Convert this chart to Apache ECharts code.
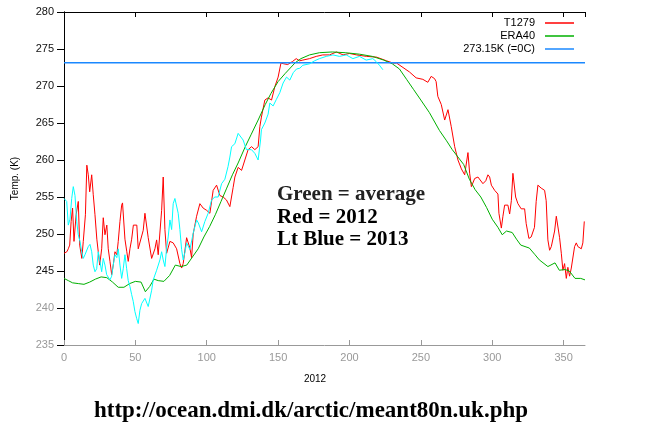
<!DOCTYPE html>
<html>
<head>
<meta charset="utf-8">
<script src="https://cdn.jsdelivr.net/npm/echarts@6.0.0/dist/echarts.min.js"></script>
<style>
  html, body { margin: 0; padding: 0; background: #ffffff; }
  #chart { width: 653px; height: 428px; }
</style>
</head>
<body>
<div id="chart"></div>
<script>
// ---- Data (day of year, temperature in K) ----
const xTicks = [0, 50, 100, 150, 200, 250, 300, 350];
const yTicks = [235, 240, 245, 250, 255, 260, 265, 270, 275, 280];
const freezingPoint = 273.15;

// T1279, 2012 (red)
const t2012 = [
  [0,247.4],[2,247.6],[3,248.0],[4,248.5],[5,251.7],[6,253.5],[7,249.0],[8.5,252.6],[10,254.4],[11,248.5],
  [12.5,246.7],[13.5,249.0],[15,252.6],[16,259.3],[17,258.0],[18,255.7],[19.4,258.0],[20.5,255.3],[21.7,252.6],
  [23,249.3],[24,247.6],[25,245.8],[26.4,248.0],[27.5,252.2],[28.7,249.9],[30,251.2],[31,248.0],[32.2,246.3],
  [33.4,244.5],[34.5,245.8],[35.7,247.6],[37,247.2],[38,249.0],[39.2,251.7],[40.4,253.9],[41,254.2],[42.7,249.3],
  [44,247.6],[45,246.3],[46.2,248.0],[47.4,249.3],[48.6,251.2],[49.8,251.4],[51,251.2],[52,248.0],[53.2,248.1],
  [55.5,250.5],[56.7,252.8],[59,249.5],[61.4,246.7],[63.7,248.0],[64.9,249.2],[66,247.2],[68.4,253.2],[69.5,257.7],
  [70.7,250.6],[71.9,247.4],[74.2,249.0],[76.5,248.8],[78.9,248.0],[81.2,246.0],[82.4,245.4],[83.5,246.0],
  [85.9,249.5],[88.2,248.1],[89.4,246.8],[90.5,250.0],[92.9,252.4],[95.2,254.1],[97.5,253.5],[99.9,253.2],
  [102.2,252.8],[104.5,255.9],[106.9,256.6],[109.2,255.2],[111.5,255.0],[113.8,254.6],[116.2,253.7],[118.5,256.3],
  [119.7,257.7],[122,259.0],[124.4,258.6],[126.7,260.0],[129,261.4],[131.4,261.8],[133.7,261.4],[136,261.8],
  [137.2,264.5],[138.3,265.8],[140.7,268.1],[143,268.4],[145.4,268.1],[147.7,269.9],[150,271.2],[152,273.1],
  [154,273.0],[156.7,272.9],[158,272.8],[160,273.3],[162.7,273.7],[165,273.4],[167.3,273.5],[172,273.7],
  [176.7,274.0],[181.3,274.2],[186,274.2],[190.9,274.6],[195.5,274.2],[200,274.4],[205,274.2],[212,274.0],
  [219,273.9],[226,273.4],[230.5,273.1],[233,273.1],[237.5,272.5],[242,271.9],[246.7,271.1],[251.4,270.9],
  [254.9,270.5],[257.2,271.3],[259.6,271.0],[260.7,270.6],[261.9,268.6],[264.3,267.5],[266.7,265.4],[267.8,265.2],
  [269,266.8],[270.2,266.8],[271.3,264.5],[273.7,261.8],[276,260.0],[278.4,258.8],[280.7,258.0],[283,261.0],
  [284.2,258.2],[285.4,256.4],[287.7,257.5],[290,257.7],[293.5,256.8],[295.5,257.2],[297,258.0],[298.2,257.7],
  [299.4,256.6],[301.7,255.9],[304,255.4],[304.7,252.8],[305.5,252.6],[306.4,250.8],[307.5,252.4],[308.7,253.9],
  [311,253.9],[312.2,252.7],[313.4,254.5],[314.5,258.2],[315.2,258.4],[316.4,255.0],[318,254.1],[320.3,253.4],
  [322.7,253.4],[323.8,251.4],[325.7,249.4],[327.3,249.6],[328.5,249.8],[329.6,250.9],[330.8,254.4],[332,256.6],
  [334.3,256.2],[336.7,255.9],[337.8,254.5],[339,249.2],[340.2,247.8],[341.4,248.3],[342.5,248.5],[343.7,250.4],
  [344.9,252.4],[346,252.4],[347.2,249.5],[348.4,247.4],[349.5,245.1],[350.7,246.0],[351.9,244.0],[353,245.5],
  [354.2,244.3],[355.4,245.4],[356.5,245.2],[357.7,248.3],[358.9,248.8],[360,248.3],[361.2,248.5],[362.4,248.0],
  [363.5,248.8],[364.5,251.7]
];

// ERA40 average (green)
const era40 = [
  [0,244.0],[3,243.7],[6,243.4],[10,243.3],[14,243.2],[18,243.5],[22,243.9],[26,244.2],[30,244.1],[34,243.5],
  [38,242.8],[42,242.8],[46,243.3],[50,243.6],[54,243.5],[57,242.2],[60,242.9],[63,243.9],[66,243.7],[70,243.6],
  [74,244.4],[78,245.8],[82,245.6],[86,245.8],[90,246.9],[94,248.0],[98,249.6],[102,251.0],[106,252.6],[110,254.4],
  [114,256.2],[118,258.0],[122,259.6],[127,261.8],[131,263.4],[136,265.4],[141,267.5],[145,269.0],[150,270.6],
  [155,271.7],[162,273.15],[166,273.7],[172,274.2],[179,274.5],[188,274.6],[197,274.5],[207,274.3],[216,274.0],
  [224,273.5],[230,273.0],[235,272.3],[240,270.9],[245,269.5],[250,268.1],[256,266.4],[263,264.0],[268,262.6],
  [272,261.4],[276,260.4],[280,259.4],[284,257.4],[288,256.0],[292,255.0],[296,253.6],[300,252.0],[304,250.9],
  [307,249.9],[310,250.4],[314,250.2],[317,249.3],[320,248.5],[326,248.1],[330,247.2],[333,246.5],[339,245.6],
  [344,246.1],[347,245.1],[351,245.2],[354,245.0],[358,244.0],[362,244.0],[365,243.8]
];

// 2013 (light blue / cyan)
const t2013 = [
  [0,254.8],[1.9,254.4],[3,251.2],[4.2,252.0],[5.4,254.8],[6.5,256.4],[7.7,255.2],[8.9,251.7],[10,249.9],[11.2,249.0],
  [12.4,247.6],[13.5,246.7],[14.7,247.2],[17,248.3],[18.2,248.6],[19.4,247.6],[20.5,245.8],[21.7,244.9],[22.9,245.3],
  [24,247.6],[25.2,246.3],[26.4,244.9],[27.5,246.7],[28.7,245.8],[29.9,244.5],[32.2,243.8],[33.4,244.3],[34.5,245.8],
  [35.7,247.2],[37,246.8],[38,248.0],[39.2,245.8],[40.4,244.0],[41.5,245.3],[42.7,247.2],[43.9,245.3],[45,243.7],
  [46.2,242.9],[47.4,241.8],[48.5,240.9],[49.7,239.5],[50.9,238.6],[52,237.9],[53.2,239.7],[54.4,240.6],[56.7,241.3],
  [59,240.2],[61.4,242.4],[62.5,243.8],[64.9,245.1],[67.2,246.5],[68.4,247.6],[69.5,246.5],[70.7,245.6],[71.9,248.1],
  [73,249.6],[74.2,251.9],[75.4,250.6],[76.5,254.1],[77.7,254.8],[78.9,254.6],[80,252.8],[81.2,250.6],[82.4,247.9],
  [83.5,246.5],[84.7,247.5],[85.9,248.8],[88.2,247.9],[90.5,250.1],[92.9,251.9],[94.1,251.5],[96.4,250.3],[98.7,251.7],
  [101,252.8],[103.4,254.6],[105.7,255.0],[108,255.0],[110.4,256.8],[112.7,257.4],[114.9,259.1],[116.2,260.4],
  [117.4,261.8],[119.7,262.2],[122,263.6],[123.2,263.8],[125.5,262.7],[127.8,261.4],[131.3,261.4],[133.7,260.9],
  [136,260.0],[137.7,262.7],[138.3,264.1],[140.7,265.0],[143,266.2],[144.2,267.7],[146.5,267.3],[148.8,268.2],
  [151.2,269.1],[153.5,270.4],[155.9,271.2],[158.2,270.8],[160.6,271.8],[162.9,272.3],[165.2,272.4],[167.3,272.8],
  [172,273.0],[175.5,273.4],[179,273.7],[183.7,274.0],[188.4,274.2],[193,274.0],[197.7,274.2],[202.4,273.7],
  [207,274.0],[211.7,273.5],[216.4,273.7],[218.7,273.3],[221,272.8],[223.4,272.2]
];

const freezeLine = [[0, freezingPoint], [365, freezingPoint]];

const seriesNames = ['T1279', 'ERA40', '273.15K (=0C)'];
const annotations = ['Green = average', 'Red = 2012', 'Lt Blue = 2013'];
const sourceUrl = 'http://ocean.dmi.dk/arctic/meant80n.uk.php';
const xName = '2012';
const yName = 'Temp. (K)';

const chart = echarts.init(document.getElementById('chart'), null, { renderer: 'canvas' });

const sans = '"Liberation Sans", Arial, sans-serif';
const serif = '"Liberation Serif", "Times New Roman", serif';

const xCommon = {
  type: 'value', min: xTicks[0], max: 365, interval: 50,
  splitLine: { show: false }
};
const yCommon = {
  type: 'value', min: yTicks[0], max: yTicks[yTicks.length - 1], interval: 5,
  splitLine: { show: false }
};

chart.setOption({
  animation: false,
  backgroundColor: '#ffffff',
  grid: { left: 64, top: 12, width: 521, height: 333, containLabel: false },
  legend: {
    data: seriesNames,
    orient: 'vertical',
    right: 74,
    top: 12,
    align: 'right',
    icon: 'rect',
    itemWidth: 29,
    itemHeight: 1.5,
    itemGap: 1,
    textStyle: { fontFamily: sans, fontSize: 11, color: '#000', padding: [0, 5, 0, 0], lineHeight: 12 },
    selectedMode: false
  },
  xAxis: [
    Object.assign({}, xCommon, {
      position: 'bottom',
      name: xName,
      nameLocation: 'middle',
      nameGap: 29,
      nameTextStyle: { fontFamily: sans, fontSize: 10, color: '#000', padding: [0, 19, 0, 0] },
      axisLine: { show: true, lineStyle: { color: '#999', width: 1 } },
      axisTick: { show: true, inside: true, length: 5, lineStyle: { color: '#999' } },
      axisLabel: { show: true, fontFamily: sans, fontSize: 11, color: '#999', margin: 7, showMaxLabel: false }
    }),
    Object.assign({}, xCommon, {
      position: 'top',
      axisLine: { show: true, lineStyle: { color: '#000', width: 1 } },
      axisTick: { show: true, inside: true, length: 5, lineStyle: { color: '#000' } },
      axisLabel: { show: false }
    })
  ],
  yAxis: [
    Object.assign({}, yCommon, {
      position: 'left',
      name: yName,
      nameLocation: 'middle',
      nameRotate: 90,
      nameGap: 44,
      nameTextStyle: { fontFamily: sans, fontSize: 10, color: '#000' },
      axisLine: { show: true, lineStyle: { color: '#000', width: 1 } },
      axisTick: { show: true, inside: false, length: 7, lineStyle: { color: '#000' } },
      axisLabel: {
        fontFamily: sans, fontSize: 11, margin: 10,
        color: function (v) { return Number(v) <= 240 ? '#999' : '#111'; }
      }
    }),
    Object.assign({}, yCommon, {
      position: 'right',
      axisLine: { show: true, lineStyle: { color: '#000', width: 1 } },
      axisTick: { show: true, inside: true, length: 6, lineStyle: { color: '#000' } },
      axisLabel: { show: false }
    })
  ],
  series: [
    {
      name: seriesNames[0], type: 'line', data: t2012, showSymbol: false, symbol: 'none',
      lineStyle: { color: '#ff0000', width: 1 }, itemStyle: { color: '#ff0000' }, z: 2
    },
    {
      name: seriesNames[1], type: 'line', data: era40, showSymbol: false, symbol: 'none',
      lineStyle: { color: '#00b000', width: 1 }, itemStyle: { color: '#00b000' }, z: 3
    },
    {
      name: seriesNames[2], type: 'line', data: freezeLine, showSymbol: false, symbol: 'none',
      lineStyle: { color: '#1a88ff', width: 1.5 }, itemStyle: { color: '#1a88ff' }, z: 4
    },
    {
      name: '2013', type: 'line', data: t2013, showSymbol: false, symbol: 'none',
      lineStyle: { color: '#00ffff', width: 1 }, itemStyle: { color: '#00ffff' }, z: 5
    }
  ],
  graphic: [
    { type: 'text', x: 277, y: 195, style: { text: annotations[0], font: 'bold 21px ' + serif, fill: '#222', verticalAlign: 'middle' } },
    { type: 'text', x: 277, y: 218, style: { text: annotations[1], font: 'bold 21px ' + serif, fill: '#000', verticalAlign: 'middle' } },
    { type: 'text', x: 277, y: 240, style: { text: annotations[2], font: 'bold 21px ' + serif, fill: '#000', verticalAlign: 'middle' } },
    { type: 'text', x: 311, y: 411, style: { text: sourceUrl, font: 'bold 23px ' + serif, fill: '#000', align: 'center', verticalAlign: 'middle' } }
  ]
});
</script>
</body>
</html>
